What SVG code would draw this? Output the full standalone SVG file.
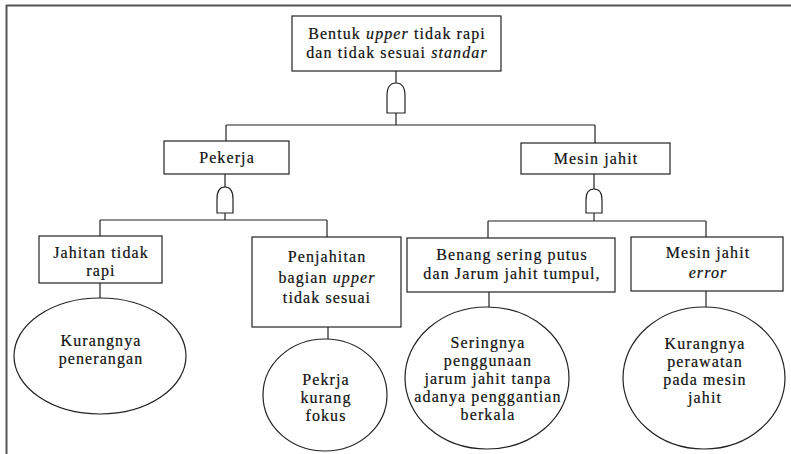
<svg xmlns="http://www.w3.org/2000/svg" width="791" height="454" viewBox="0 0 791 454">
<style>
.box{fill:#fff;stroke:#222;stroke-width:1.2}
.ell{fill:#fff;stroke:#222;stroke-width:1.2}
.gate{fill:#fff;stroke:#222;stroke-width:1.2}
.ln{stroke:#222;stroke-width:1.2;fill:none}
text{font-family:"Liberation Serif","Times New Roman",serif;font-size:16px;letter-spacing:1.1px;fill:#111;stroke:#111;stroke-width:0.2;text-anchor:middle}
.i{font-style:italic}
</style>
<rect width="791" height="454" fill="#fff"/>
<g id="frame">
<line x1="6" y1="5.5" x2="791" y2="5.5" stroke="#555" stroke-width="2"/>
<line x1="6.5" y1="5" x2="6.5" y2="454" stroke="#555" stroke-width="2"/>
</g>
<g id="connectors">
<path class="ln" d="M396,71V83M396,113V125M226,125H595M226,125V141M595,125V143"/>
<path class="ln" d="M225,174V187M225,213V220M100,220H327M100,220V236M327,220V237"/>
<path class="ln" d="M594,174V189M594,213V221M488,221H706M488,221V238M706,221V237"/>
<path class="ln" d="M100,283V298M328,327V339M489,292V307M706,291V307"/>
</g>
<g id="gates">
<path class="gate" d="M387,113V96Q387,83 396,83Q405,83 405,96V113Z"/>
<path class="gate" d="M217,213V199Q217,187 225,187Q233,187 233,199V213Z"/>
<path class="gate" d="M586,213V200Q586,189 594,189Q602,189 602,200V213Z"/>
</g>
<g id="top">
<rect class="box" x="292" y="16" width="209" height="55"/>
<text x="397" y="39">Bentuk <tspan class="i">upper</tspan> tidak rapi</text>
<text x="397" y="58">dan tidak sesuai <tspan class="i">standar</tspan></text>
</g>
<g id="pekerja">
<rect class="box" x="164" y="141" width="125" height="33"/>
<text x="227" y="163">Pekerja</text>
</g>
<g id="mesin">
<rect class="box" x="521" y="143" width="149" height="31"/>
<text x="596" y="164">Mesin jahit</text>
</g>
<g id="jahitan">
<rect class="box" x="39" y="236" width="123" height="47"/>
<text x="101" y="258">Jahitan tidak</text>
<text x="101" y="276">rapi</text>
</g>
<g id="penjahitan">
<rect class="box" x="252" y="237" width="149" height="90"/>
<text x="327" y="262">Penjahitan</text>
<text x="327" y="283">bagian <tspan class="i">upper</tspan></text>
<text x="327" y="303">tidak sesuai</text>
</g>
<g id="benang">
<rect class="box" x="407" y="238" width="208" height="54"/>
<text x="512" y="260">Benang sering putus</text>
<text x="512" y="279">dan Jarum jahit tumpul,</text>
</g>
<g id="error">
<rect class="box" x="631" y="237" width="152" height="54"/>
<text x="708" y="258">Mesin jahit</text>
<text x="708" y="278" class="i">error</text>
</g>
<g id="penerangan">
<ellipse class="ell" cx="100" cy="356" rx="86" ry="58"/>
<text x="101" y="346">Kurangnya</text>
<text x="101" y="364">penerangan</text>
</g>
<g id="fokus">
<ellipse class="ell" cx="325" cy="395" rx="62" ry="56"/>
<text x="326" y="385">Pekrja</text>
<text x="326" y="403">kurang</text>
<text x="326" y="421">fokus</text>
</g>
<g id="jarum">
<ellipse class="ell" cx="487" cy="378" rx="82" ry="71"/>
<text x="488" y="348">Seringnya</text>
<text x="488" y="366">penggunaan</text>
<text x="488" y="384">jarum jahit tanpa</text>
<text x="488" y="402">adanya penggantian</text>
<text x="488" y="420">berkala</text>
</g>
<g id="perawatan">
<ellipse class="ell" cx="704" cy="378" rx="81" ry="71"/>
<text x="705" y="349">Kurangnya</text>
<text x="705" y="367">perawatan</text>
<text x="705" y="385">pada mesin</text>
<text x="705" y="403">jahit</text>
</g>
</svg>
